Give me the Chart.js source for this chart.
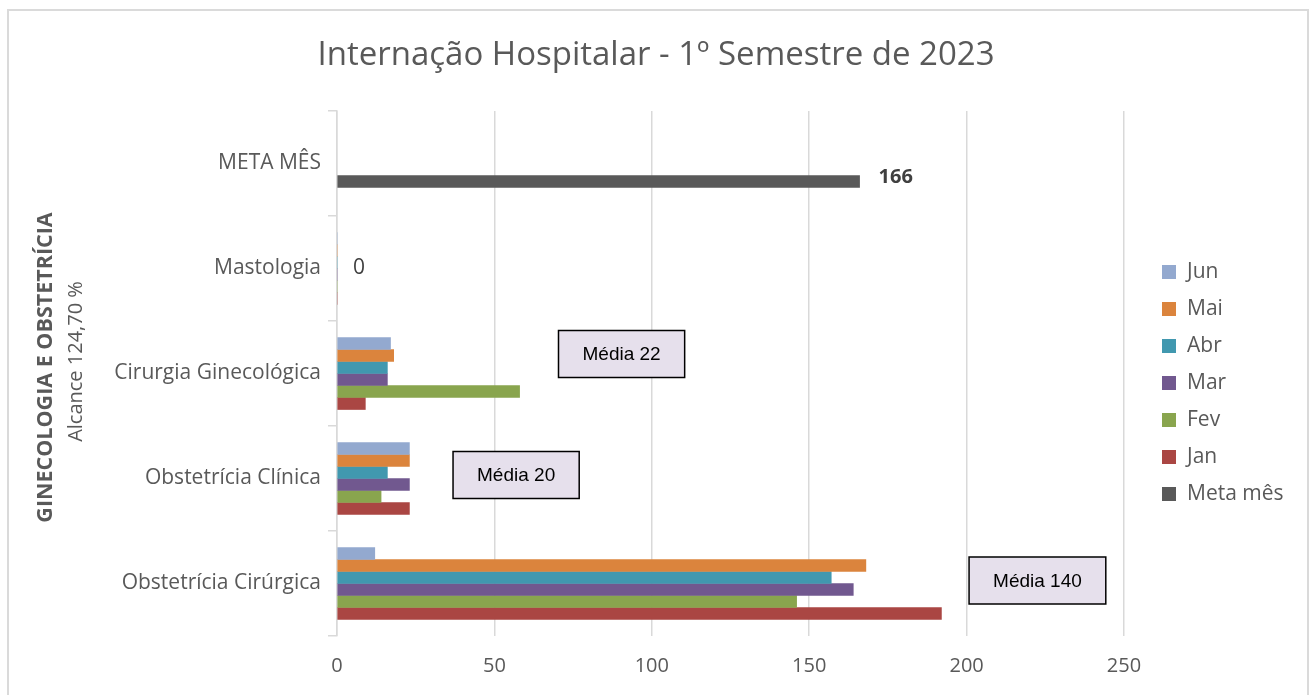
<!DOCTYPE html>
<html lang="pt-BR">
<head>
<meta charset="utf-8">
<title>Internação Hospitalar</title>
<script src="https://cdn.jsdelivr.net/npm/chart.js@4.4.1/dist/chart.umd.min.js"></script>
<style>
    html, body { margin: 0; padding: 0; background: #fff; }
    #moldura { position: absolute; left: 7px; top: 9px; width: 1298px; height: 720px; border: 2px solid #dadada; }
    #area { position: absolute; left: 0; top: 0; width: 1312px; height: 695px; }
</style>
</head>
<body>
<div id="moldura"></div>
<div id="area"><canvas id="grafico"></canvas></div>
<script>
// Dados do gráfico
const categorias = ['META MÊS', 'Mastologia', 'Cirurgia Ginecológica', 'Obstetrícia Clínica', 'Obstetrícia Cirúrgica'];
const jun = [null, 0, 17, 23, 12];
const mai = [null, 0, 18, 23, 168];
const abr = [null, 0, 16, 16, 157];
const mar = [null, 0, 16, 23, 164];
const fev = [null, 0, 58, 14, 146];
const jan = [null, 0, 9, 23, 192];
const metaMes = [166, null, null, null, null];
const ticksX = [0, 50, 100, 150, 200, 250];

const meses = [jun, mai, abr, mar, fev, jan];
const corTexto = '#595959';
const fonte = 'Open Sans';
const tituloGrafico = 'Internação Hospitalar - 1º Semestre de 2023';

// Média dos meses por categoria
function mediaCategoria(i) {
    let soma = 0;
    meses.forEach(m => { soma += m[i] || 0; });
    return Math.round(soma / meses.length);
}

// Plugin com título, rótulos, caixas de média, título do eixo e legenda
const desenhos = {
    id: 'desenhos',
    afterDatasetsDraw(chart, args, opts) {
        const ctx = chart.ctx;
        const sx = chart.scales.x;
        const sy = chart.scales.y;
        const area = chart.chartArea;
        ctx.save();
        ctx.textBaseline = 'middle';

        // título
        ctx.font = '33px "' + fonte + '"';
        ctx.fillStyle = corTexto;
        ctx.textAlign = 'center';
        ctx.fillText(tituloGrafico, chart.width / 2, 56);

        // rótulo da meta
        const idxMeta = chart.data.datasets.length - 1;
        const barrasMeta = chart.getDatasetMeta(idxMeta).data;
        metaMes.forEach((v, i) => {
            if (v === null) return;
            const el = barrasMeta[i];
            ctx.font = 'bold 20px "' + fonte + '"';
            ctx.fillStyle = '#404040';
            ctx.textAlign = 'left';
            ctx.fillText(String(v), el.x + 19, el.y - 4);
        });

        // rótulo zero para categorias sem internações
        categorias.forEach((c, i) => {
            if (metaMes[i] !== null) return;
            const total = meses.reduce((s, m) => s + (m[i] || 0), 0);
            if (total !== 0) return;
            ctx.font = '21px "' + fonte + '"';
            ctx.fillStyle = '#404040';
            ctx.textAlign = 'left';
            ctx.fillText('0', sx.getPixelForValue(0) + 16, sy.getPixelForValue(i));
        });

        // caixas de média
        opts.caixas.forEach(cx => {
            const texto = 'Média ' + mediaCategoria(cx.cat);
            ctx.font = '19px "Liberation Sans"';
            const w = ctx.measureText(texto).width + 48;
            const h = 47;
            const x = sx.getPixelForValue(cx.valor) - w / 2;
            const y = sy.getPixelForValue(cx.cat) + cx.deslocY - h / 2;
            ctx.fillStyle = '#e6e0ec';
            ctx.fillRect(x, y, w, h);
            ctx.lineWidth = 1.5;
            ctx.strokeStyle = '#000';
            ctx.strokeRect(x, y, w, h);
            ctx.fillStyle = '#000';
            ctx.textAlign = 'center';
            ctx.fillText(texto, x + w / 2, y + h / 2 + 1);
        });

        // título do eixo vertical
        const meio = (area.top + area.bottom) / 2;
        ctx.fillStyle = corTexto;
        ctx.textAlign = 'center';
        ctx.save();
        ctx.translate(46, meio - 6);
        ctx.rotate(-Math.PI / 2);
        ctx.font = 'bold 21.5px "' + fonte + '"';
        ctx.fillText('GINECOLOGIA E OBSTETRÍCIA', 0, 0);
        ctx.restore();
        ctx.save();
        ctx.translate(76, meio - 12);
        ctx.rotate(-Math.PI / 2);
        ctx.font = '20px "' + fonte + '"';
        ctx.fillText('Alcance 124,70 %', 0, 0);
        ctx.restore();

        // legenda
        ctx.textAlign = 'left';
        ctx.font = '21px "' + fonte + '"';
        chart.data.datasets.forEach((ds, i) => {
            const y = 272 + i * 37;
            ctx.fillStyle = ds.backgroundColor;
            ctx.fillRect(1162, y - 7, 14, 14);
            ctx.fillStyle = corTexto;
            ctx.fillText(ds.label, 1187, y);
        });

        ctx.restore();
    }
};

document.addEventListener('DOMContentLoaded', function() {
    const ctx = document.getElementById('grafico');
    new Chart(ctx, {
        type: 'bar',
        data: {
            labels: categorias,
            datasets: [
                { label: 'Jun', data: jun, backgroundColor: '#93a9cf' },
                { label: 'Mai', data: mai, backgroundColor: '#db843d' },
                { label: 'Abr', data: abr, backgroundColor: '#4198af' },
                { label: 'Mar', data: mar, backgroundColor: '#71588f' },
                { label: 'Fev', data: fev, backgroundColor: '#89a54e', stack: 'f' },
                { label: 'Jan', data: jan, backgroundColor: '#aa4643' },
                { label: 'Meta mês', data: metaMes, backgroundColor: '#595959', stack: 'f' }
            ]
        },
        options: {
            indexAxis: 'y',
            responsive: true,
            maintainAspectRatio: false,
            animation: false,
            datasets: {
                bar: { barThickness: 12, borderWidth: 0 }
            },
            layout: { padding: { left: 0, right: 188, top: 111, bottom: 0 } },
            scales: {
                x: {
                    min: 0,
                    max: 250,
                    stacked: false,
                    afterBuildTicks: s => { s.ticks = ticksX.map(v => ({ value: v })); },
                    afterFit: s => { s.height = 59; },
                    grid: { color: '#d9d9d9', lineWidth: 1.5, drawTicks: false },
                    border: { display: false },
                    ticks: { padding: 18, color: corTexto, font: { family: fonte, size: 20 } }
                },
                y: {
                    afterFit: s => { s.width = 337; },
                    grid: { drawOnChartArea: false, tickLength: 9, color: '#d9d9d9', lineWidth: 1.5 },
                    border: { color: '#d9d9d9', width: 1.5 },
                    ticks: { padding: 7, color: corTexto, font: { family: fonte, size: 21 } }
                }
            },
            plugins: {
                legend: { display: false },
                tooltip: { enabled: false },
                title: { display: false },
                desenhos: {
                    caixas: [
                        { cat: 2, valor: 90.4, deslocY: -19.5 },
                        { cat: 3, valor: 56.9, deslocY: -3.5 },
                        { cat: 4, valor: 222.5, deslocY: -3 }
                    ]
                }
            }
        },
        plugins: [desenhos]
    });
});
</script>
</body>
</html>
